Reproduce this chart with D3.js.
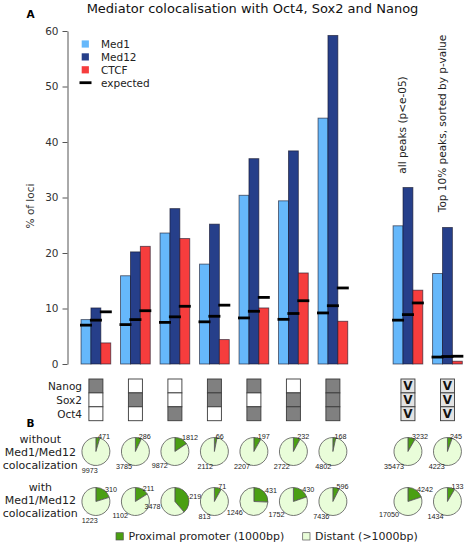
<!DOCTYPE html>
<html><head><meta charset="utf-8">
<script src="https://cdn.jsdelivr.net/npm/d3@7"></script>
<style>
html,body{margin:0;padding:0;background:#fff;}
svg{display:block;font-family:"DejaVu Sans",sans-serif;}
</style>
</head><body>
<svg id="chart" width="468" height="545"></svg>
<script>
// ---------- data ----------
const groups = ["Nanog","Sox2","Oct4","Nanog+Sox2","Nanog+Oct4","Sox2+Oct4","Nanog+Sox2+Oct4","all peaks","top 10%"];
const seriesNames = ["Med1","Med12","CTCF"];
const med1  = [8.0, 15.9, 23.6, 18.0, 30.4, 29.4, 44.3, 24.9, 16.3];
const med12 = [10.1, 20.2, 28.0, 25.2, 37.0, 38.4, 59.2, 31.8, 24.6];
const ctcf  = [3.8, 21.2, 22.6, 4.4, 10.1, 16.4, 7.7, 13.3, 0.5];
const expMed1  = [7.0, 7.1, 7.5, 7.6, 8.3, 8.05, 9.2, 7.9, 1.25];
const expMed12 = [7.9, 8.0, 8.5, 8.6, 9.5, 9.1, 10.5, 8.9, 1.35];
const expCtcf  = [9.4, 9.6, 10.4, 10.6, 12.0, 11.4, 13.7, 11.0, 1.4];
const yTicks = [0, 10, 20, 30, 40, 50, 60];
const factors = ["Nanog","Sox2","Oct4"];
const nanogState = ["on","off","off","on","on","off","on","any","any"];
const sox2State  = ["off","on","off","on","off","on","on","any","any"];
const oct4State  = ["off","off","on","off","on","on","on","any","any"];
const sideLabels = ["all peaks (p<e-05)", "Top 10% peaks, sorted by p-value"];
const withoutProx = [471, 286, 1812, 66, 197, 232, 168, 3232, 245];
const withoutDist = [9973, 3785, 9872, 2112, 2207, 2722, 4802, 35473, 4223];
const withProx = [310, 211, 2190, 71, 431, 430, 596, 4242, 133];
const withDist = [1223, 1102, 3478, 813, 1246, 1752, 7436, 17050, 1434];
const withoutProxLabels = ["471","286","1812","66","197","232","168","3232","245"];
const withoutDistLabels = ["9973","3785","9872","2112","2207","2722","4802","35473","4223"];
const withProxLabels = ["310","211","219","71","431","430","596","4242","133"];
const withDistLabels = ["1223","1102","3478","813","1246","1752","7436","17050","1434"];
const pieKinds = ["Proximal promoter (1000bp)", "Distant (>1000bp)"];
const rowLabels = [["without","Med1/Med12","colocalization"],["with","Med1/Med12","colocalization"]];

// ---------- setup ----------
const colors = {Med1:"#66b8fb", Med12:"#263f8a", CTCF:"#f63d3d"};
const pieColors = ["#4a9f12", "#e9fdd9"];
const svg = d3.select("#chart");

// slot index with a gap before the last two groups
const slot = i => i < 7 ? i : i + 0.9;
const x = d3.scaleLinear().domain([0, 1]).range([95.9, 135.4]);
const gx = i => x(slot(i));
const inner = d3.scaleBand().domain(seriesNames).range([-14.85, 14.85]);
const y = d3.scaleLinear().domain([0, 60]).range([364, 31]);

// title & panel letters
svg.append("text").attr("x", 252.5).attr("y", 13).attr("text-anchor","middle")
  .attr("font-size", 13).attr("fill","#111").text("Mediator colocalisation with Oct4, Sox2 and Nanog");
svg.append("text").attr("x", 26.5).attr("y", 17.5).attr("font-size", 10.5).attr("font-weight","bold").text("A");
svg.append("text").attr("x", 26.5).attr("y", 427).attr("font-size", 10.5).attr("font-weight","bold").text("B");

// y axis
const yAxis = svg.append("g").attr("transform","translate(67.5,0)")
  .call(d3.axisLeft(y).tickValues(yTicks).tickSize(5).tickPadding(4).tickSizeOuter(0));
yAxis.select(".domain").attr("stroke","#555");
yAxis.selectAll(".tick line").attr("stroke","#555");
yAxis.selectAll(".tick text").attr("font-size", 10.5).attr("fill","#333").attr("font-family","DejaVu Sans");
svg.append("text").attr("transform","translate(33.5,206) rotate(-90)").attr("text-anchor","middle")
  .attr("font-size", 10.5).attr("fill","#333").text("% of loci");

// bars
const barData = [];
const seriesVals = {Med1: med1, Med12: med12, CTCF: ctcf};
const expVals = {Med1: expMed1, Med12: expMed12, CTCF: expCtcf};
groups.forEach((g, i) => seriesNames.forEach(s => barData.push({i, s, v: seriesVals[s][i], e: expVals[s][i]})));
svg.append("g").selectAll("rect").data(barData).join("rect")
  .attr("x", d => gx(d.i) + inner(d.s))
  .attr("y", d => y(d.v))
  .attr("width", inner.bandwidth())
  .attr("height", d => y(0) - y(d.v))
  .attr("fill", d => colors[d.s])
  .attr("stroke", "rgba(20,20,40,0.65)").attr("stroke-width", 0.9);
svg.append("g").selectAll("line").data(barData).join("line")
  .attr("x1", d => gx(d.i) + inner(d.s) + inner.bandwidth()/2 - 6)
  .attr("x2", d => gx(d.i) + inner(d.s) + inner.bandwidth()/2 + 6)
  .attr("y1", d => y(d.e)).attr("y2", d => y(d.e))
  .attr("stroke", "#000").attr("stroke-width", 2.8);

// legend
const leg = svg.append("g");
seriesNames.forEach((s, k) => {
  const cy = 44 + k * 12.9;
  leg.append("rect").attr("x", 81.7).attr("y", cy - 3.6).attr("width", 7.2).attr("height", 7.2).attr("fill", colors[s]);
  leg.append("text").attr("x", 101).attr("y", cy + 3.8).attr("font-size", 10.5).attr("fill","#222").text(s);
});
leg.append("line").attr("x1", 79.5).attr("x2", 91.5).attr("y1", 82.7).attr("y2", 82.7).attr("stroke","#000").attr("stroke-width", 2.8);
leg.append("text").attr("x", 101).attr("y", 86.5).attr("font-size", 10.5).attr("fill","#222").text("expected");

// rotated side labels
svg.append("text").attr("transform", `translate(${gx(7)-1.5},125) rotate(-90)`).attr("text-anchor","middle")
  .attr("font-size", 10.5).attr("fill","#222").text(sideLabels[0]);
svg.append("text").attr("transform", `translate(${gx(8)-1.5},123.5) rotate(-90)`).attr("text-anchor","middle")
  .attr("font-size", 10.5).attr("fill","#222").text(sideLabels[1]);

// factor grid
const states = [nanogState, sox2State, oct4State];
const cellH = 13.9, cellW = 14, gridTop = 379;
const grid = svg.append("g");
factors.forEach((f, r) => {
  grid.append("text").attr("x", 82).attr("y", gridTop + r * cellH + cellH/2 + 3.9)
    .attr("text-anchor","end").attr("font-size", 10.5).attr("fill","#222").text(f);
  groups.forEach((g, i) => {
    const st = states[r][i];
    const cx = gx(i);
    grid.append("rect").attr("x", cx - cellW/2).attr("y", gridTop + r * cellH)
      .attr("width", cellW).attr("height", cellH)
      .attr("fill", st === "on" ? "#808080" : st === "any" ? "#e3e3e3" : "#ffffff")
      .attr("stroke", "#3a3a3a").attr("stroke-width", 0.9);
    if (st === "any") {
      grid.append("text").attr("x", cx).attr("y", gridTop + r * cellH + cellH/2 + 4.5)
        .attr("text-anchor","middle").attr("font-size", 12).attr("font-weight","bold").attr("fill","#111").text("V");
    }
  });
});

// pies
const pie = d3.pie().sort(null).value(d => d.v);
const R = 14;
const arc = d3.arc().innerRadius(0).outerRadius(R);
function pieRow(prox, dist, proxLab, distLab, cy) {
  const g = svg.append("g");
  groups.forEach((gname, i) => {
    const cx = gx(i);
    const data = [{v: prox[i], lab: proxLab[i]}, {v: dist[i], lab: distLab[i]}];
    const arcs = pie(data);
    const pg = g.append("g").attr("transform", `translate(${cx},${cy})`);
    pg.selectAll("path").data(arcs).join("path").attr("d", arc)
      .attr("fill", (d, k) => pieColors[k]).attr("stroke", "#555").attr("stroke-width", 0.8);
    arcs.forEach((a, k) => {
      const m = (a.startAngle + a.endAngle) / 2;
      const sx = Math.sin(m), sy = -Math.cos(m);
      pg.append("line").attr("x1", R * sx).attr("y1", R * sy).attr("x2", R * 1.05 * sx).attr("y2", R * 1.05 * sy)
        .attr("stroke", "#555").attr("stroke-width", 0.7);
      // first column: distant label tucked right under the pie, clear of the row titles
      const tuck = (i === 0 && k === 1);
      pg.append("text")
        .attr("x", tuck ? 1.8 : R * 1.1 * sx)
        .attr("y", tuck ? R * 1.36 : R * 1.1 * sy).attr("dy", "0.36em")
        .attr("text-anchor", (tuck || sx <= 0) ? "end" : "start")
        .attr("font-family", "Liberation Sans, Arial, sans-serif").attr("font-size", 7.2).attr("fill","#222")
        .text(a.data.lab);
    });
  });
}
pieRow(withoutProx, withoutDist, withoutProxLabels, withoutDistLabels, 451.5);
pieRow(withProx, withDist, withProxLabels, withDistLabels, 501.5);

// row labels
rowLabels.forEach((lines, r) => {
  lines.forEach((t, k) => {
    svg.append("text").attr("x", 40.3).attr("y", (r === 0 ? 443 : 491) + k * 13)
      .attr("text-anchor","middle").attr("font-size", 11).attr("fill","#222").text(t);
  });
});

// bottom legend
const bl = svg.append("g");
[[116, 128.5], [302.7, 315]].forEach(([sx, tx], k) => {
  bl.append("rect").attr("x", sx).attr("y", 532.7).attr("width", 7.3).attr("height", 7.3)
    .attr("fill", pieColors[k]).attr("stroke", "#555").attr("stroke-width", 0.7);
  bl.append("text").attr("x", tx).attr("y", 540.3).attr("font-size", 11).attr("fill","#222").text(pieKinds[k]);
});
</script>
</body></html>
